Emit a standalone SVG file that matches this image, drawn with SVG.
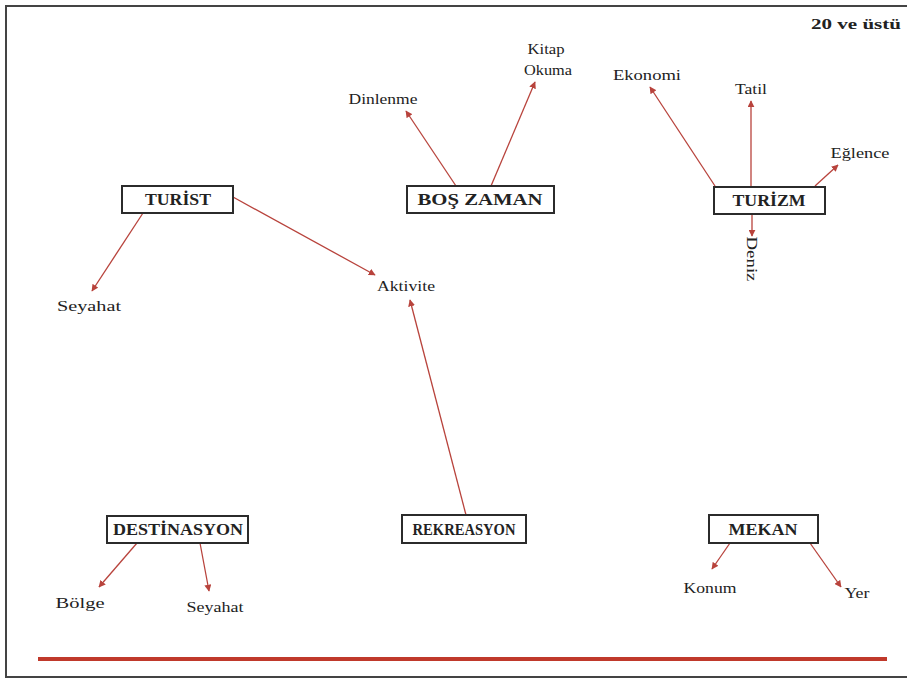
<svg xmlns="http://www.w3.org/2000/svg" width="907" height="680" viewBox="0 0 907 680">
<style>
.box{fill:#fff;stroke:#2b2b2b;stroke-width:2}
.bl{font-family:"Liberation Serif",serif;font-weight:bold;font-size:16px;fill:#222;text-anchor:middle}
.lb{font-family:"Liberation Serif",serif;font-size:15px;fill:#222;text-anchor:middle}
.ar{stroke:#b8433c;stroke-width:1.3;fill:none;marker-end:url(#ah)}
</style>
<defs>
<marker id="ah" viewBox="0 0 10 10" refX="9" refY="5" markerWidth="7" markerHeight="7" orient="auto" markerUnits="userSpaceOnUse">
<path d="M0,0 L10,5 L0,10 z" fill="#b8433c"/>
</marker>
</defs>
<rect x="0" y="0" width="907" height="680" fill="#fff"/>
<rect x="6" y="6" width="910" height="671" fill="none" stroke="#444" stroke-width="2"/>
<line x1="38" y1="659" x2="887" y2="659" stroke="#c0392b" stroke-width="4"/>
<text x="901" y="29" class="bl" style="text-anchor:end;font-size:14px" textLength="90" lengthAdjust="spacingAndGlyphs">20 ve üstü</text>

<g id="connectors">
<line class="ar" x1="456" y1="186" x2="406" y2="111"/>
<line class="ar" x1="491" y1="186" x2="535" y2="82"/>
<line class="ar" x1="715" y1="186" x2="650" y2="87"/>
<line class="ar" x1="751" y1="186" x2="751" y2="101"/>
<line class="ar" x1="815" y1="186" x2="838" y2="165"/>
<line class="ar" x1="752" y1="214" x2="752" y2="236"/>
<line class="ar" x1="143" y1="213" x2="92" y2="291"/>
<line class="ar" x1="233" y1="197" x2="375" y2="275"/>
<line class="ar" x1="466" y1="515" x2="410" y2="300"/>
<line class="ar" x1="137" y1="543" x2="99" y2="587"/>
<line class="ar" x1="200" y1="543" x2="209" y2="591"/>
<line class="ar" x1="730" y1="543" x2="712" y2="569"/>
<line class="ar" x1="810" y1="543" x2="841" y2="587"/>
</g>

<g id="turist"><rect class="box" x="122" y="186" width="111" height="27"/><text class="bl" x="178" y="205" textLength="66" lengthAdjust="spacingAndGlyphs">TURİST</text></g>
<g id="boszaman"><rect class="box" x="407" y="186" width="147" height="27"/><text class="bl" x="480" y="205" textLength="125" lengthAdjust="spacingAndGlyphs">BOŞ ZAMAN</text></g>
<g id="turizm"><rect class="box" x="714" y="187" width="111" height="27"/><text class="bl" x="769" y="206" textLength="73" lengthAdjust="spacingAndGlyphs">TURİZM</text></g>
<g id="destinasyon"><rect class="box" x="107" y="516" width="141" height="27"/><text class="bl" x="178" y="535" textLength="130" lengthAdjust="spacingAndGlyphs">DESTİNASYON</text></g>
<g id="rekreasyon"><rect class="box" x="402" y="515" width="124" height="28"/><text class="bl" x="464" y="535" textLength="103" lengthAdjust="spacingAndGlyphs">REKREASYON</text></g>
<g id="mekan"><rect class="box" x="709" y="515" width="109" height="28"/><text class="bl" x="763" y="535" textLength="69" lengthAdjust="spacingAndGlyphs">MEKAN</text></g>

<g id="dinlenme"><text class="lb" x="383" y="104" textLength="69" lengthAdjust="spacingAndGlyphs">Dinlenme</text></g>
<g id="kitapokuma"><text class="lb" x="546" y="54" textLength="37" lengthAdjust="spacingAndGlyphs">Kitap</text><text class="lb" x="548" y="75" textLength="48" lengthAdjust="spacingAndGlyphs">Okuma</text></g>
<g id="ekonomi"><text class="lb" x="647" y="80" textLength="68" lengthAdjust="spacingAndGlyphs">Ekonomi</text></g>
<g id="tatil"><text class="lb" x="751" y="94" textLength="32" lengthAdjust="spacingAndGlyphs">Tatil</text></g>
<g id="eglence"><text class="lb" x="860" y="158" textLength="59" lengthAdjust="spacingAndGlyphs">Eğlence</text></g>
<g id="deniz"><text class="lb" x="0" y="0" transform="translate(747,259) rotate(90)" textLength="45" lengthAdjust="spacingAndGlyphs">Deniz</text></g>
<g id="seyahat1"><text class="lb" x="89" y="311" textLength="64" lengthAdjust="spacingAndGlyphs">Seyahat</text></g>
<g id="aktivite"><text class="lb" x="406" y="291" textLength="58" lengthAdjust="spacingAndGlyphs">Aktivite</text></g>
<g id="bolge"><text class="lb" x="80" y="608" textLength="49" lengthAdjust="spacingAndGlyphs">Bölge</text></g>
<g id="seyahat2"><text class="lb" x="215" y="612" textLength="57" lengthAdjust="spacingAndGlyphs">Seyahat</text></g>
<g id="konum"><text class="lb" x="710" y="593" textLength="53" lengthAdjust="spacingAndGlyphs">Konum</text></g>
<g id="yer"><text class="lb" x="857" y="598" textLength="25" lengthAdjust="spacingAndGlyphs">Yer</text></g>
</svg>
